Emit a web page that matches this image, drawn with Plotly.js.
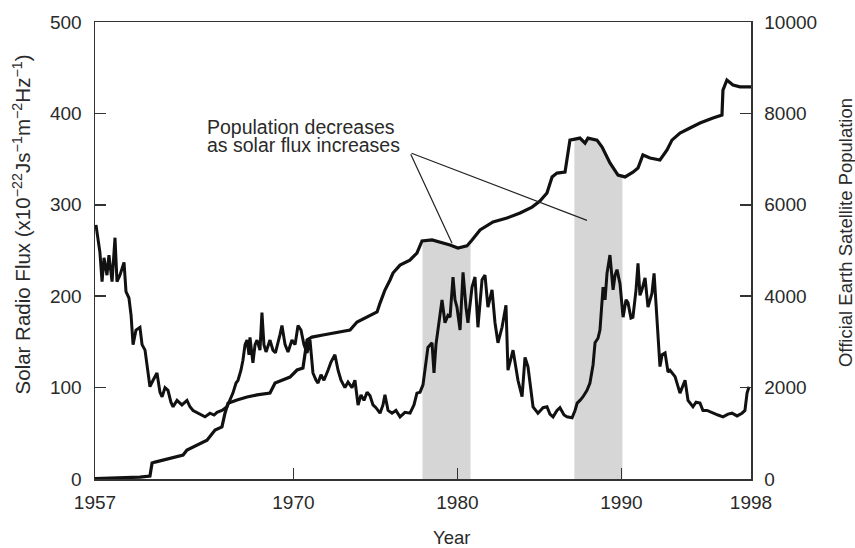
<!DOCTYPE html>
<html>
<head>
<meta charset="utf-8">
<script src="https://cdn.plot.ly/plotly-3.0.1.min.js"></script>
<style>
  html, body { margin: 0; padding: 0; background: #fff; }
  #chart { width: 855px; height: 548px; }
</style>
</head>
<body>
<div id="chart"></div>
<script>
// Monthly-ish 10.7 cm solar radio flux
const fluxYears = [
  1957.96, 1958.2, 1958.33, 1958.45, 1958.63, 1958.75, 1958.94, 1959.12, 1959.24, 1959.42,
  1959.67, 1959.79, 1959.97, 1960.1, 1960.22, 1960.4, 1960.64, 1960.77, 1960.95, 1961.13,
  1961.25, 1961.44, 1961.68, 1961.86, 1961.99, 1962.17, 1962.35, 1962.53, 1962.66, 1962.9,
  1963.2, 1963.51, 1963.69, 1963.88, 1964.18, 1964.61, 1964.91, 1965.16, 1965.34, 1965.64,
  1965.95, 1966.13, 1966.31, 1966.5, 1966.62, 1966.8, 1966.92, 1967.05, 1967.17, 1967.29,
  1967.35, 1967.53, 1967.66, 1967.78, 1967.96, 1968.08, 1968.2, 1968.33, 1968.57, 1968.75,
  1968.9, 1969.18, 1969.3, 1969.49, 1969.67, 1969.91, 1970.1, 1970.28, 1970.46, 1970.64,
  1970.83, 1971.01, 1971.19, 1971.38, 1971.5, 1971.68, 1971.86, 1972.11, 1972.29, 1972.53,
  1972.72, 1972.9, 1973.14, 1973.33, 1973.57, 1973.75, 1973.94, 1974.12, 1974.3, 1974.49,
  1974.67, 1974.85, 1975.03, 1975.28, 1975.46, 1975.58, 1975.77, 1976.01, 1976.25, 1976.5,
  1976.8, 1977.11, 1977.35, 1977.53, 1977.72, 1977.9, 1978.08, 1978.2, 1978.45, 1978.57,
  1978.69, 1978.75, 1978.94, 1979.06, 1979.24, 1979.42, 1979.55, 1979.73, 1979.85, 1979.97,
  1980.16, 1980.34, 1980.52, 1980.64, 1980.89, 1981.07, 1981.25, 1981.5, 1981.68, 1981.86,
  1982.11, 1982.29, 1982.47, 1982.72, 1982.96, 1983.08, 1983.39, 1983.69, 1983.94, 1984.12,
  1984.3, 1984.49, 1984.61, 1984.91, 1985.22, 1985.46, 1985.64, 1985.83, 1986.07, 1986.25,
  1986.5, 1986.68, 1986.99, 1987.17, 1987.3, 1987.47, 1987.66, 1987.9, 1988.08, 1988.27,
  1988.39, 1988.57, 1988.69, 1988.88, 1989.0, 1989.12, 1989.3, 1989.49, 1989.61, 1989.73,
  1989.91, 1990.1, 1990.28, 1990.4, 1990.58, 1990.7, 1990.89, 1991.01, 1991.13, 1991.25,
  1991.44, 1991.62, 1991.74, 1991.86, 1991.99, 1992.17, 1992.35, 1992.48, 1992.66, 1992.84,
  1992.96, 1993.27, 1993.57, 1993.88, 1994.06, 1994.36, 1994.55, 1994.79, 1994.97, 1995.22,
  1995.58, 1995.89, 1996.19, 1996.5, 1996.74, 1997.05, 1997.35, 1997.53, 1997.66, 1997.78
];
const fluxValues = [
  278, 248, 216, 242, 223, 245, 216, 264, 216, 223,
  237, 205, 198, 179, 147, 163, 166, 147, 141, 114,
  101, 108, 116, 95, 90, 100, 97, 84, 79, 86,
  81, 86, 79, 75, 72, 68, 72, 70, 73, 75,
  79, 86, 94, 105, 108, 119, 130, 147, 152, 136,
  155, 127, 147, 152, 141, 182, 147, 139, 152, 141,
  138, 158, 168, 147, 139, 152, 147, 168, 163, 147,
  138, 152, 116, 108, 105, 114, 108, 119, 128, 136,
  119, 108, 100, 106, 100, 108, 81, 92, 86, 95,
  91, 81, 78, 72, 81, 92, 75, 72, 75, 68,
  73, 72, 81, 94, 95, 103, 125, 144, 149, 116,
  147, 155, 176, 196, 171, 179, 177, 221, 196, 188,
  163, 226, 188, 171, 210, 221, 166, 218, 223, 188,
  207, 171, 149, 166, 190, 119, 141, 108, 90, 133,
  123, 92, 79, 72, 78, 79, 71, 68, 75, 78,
  70, 68, 67, 75, 83, 86, 90, 97, 105, 125,
  149, 154, 163, 210, 196, 225, 245, 207, 223, 229,
  214, 177, 196, 193, 176, 177, 207, 236, 201, 207,
  220, 188, 196, 203, 225, 171, 123, 136, 138, 117,
  119, 112, 94, 108, 86, 79, 84, 83, 75, 75,
  72, 70, 68, 71, 72, 69, 72, 75, 94, 101
];

// Catalogued objects in Earth orbit
const popYears = [
  1957.9, 1960.64, 1961.25, 1961.38, 1961.56, 1962.47, 1963.27, 1963.51, 1964.12, 1964.73,
  1965.22, 1965.64, 1965.83, 1966.01, 1966.56, 1967.17, 1967.78, 1968.57, 1968.88, 1969.79,
  1970.22, 1970.58, 1970.83, 1971.13, 1971.8, 1972.41, 1973.45, 1973.88, 1974.49, 1975.1,
  1975.28, 1975.58, 1975.89, 1976.07, 1976.5, 1977.1, 1977.53, 1977.84, 1978.45, 1978.94,
  1979.55, 1980.03, 1980.58, 1980.89, 1981.38, 1982.17, 1983.02, 1983.82, 1984.55, 1985.03,
  1985.46, 1985.77, 1986.07, 1986.56, 1986.86, 1987.47, 1987.78, 1987.96, 1988.51, 1988.82,
  1989.3, 1989.79, 1990.22, 1990.7, 1991.01, 1991.31, 1991.74, 1992.35, 1992.78, 1993.08,
  1993.57, 1994.18, 1994.79, 1995.58, 1996.13, 1996.19, 1996.43, 1996.8, 1997.23, 1997.9
];
const popValues = [
  10, 40, 65, 350, 370, 460, 525, 635, 745, 850,
  1070, 1140, 1445, 1660, 1730, 1795, 1840, 1880, 2100, 2230,
  2385, 2430, 3040, 3105, 3150, 3195, 3260, 3435, 3545, 3655,
  3850, 4135, 4355, 4507, 4680, 4790, 4945, 5210, 5230, 5185,
  5120, 5055, 5100, 5230, 5450, 5625, 5710, 5820, 5950, 6080,
  6260, 6610, 6695, 6715, 7415, 7460, 7350, 7460, 7415, 7265,
  6915, 6650, 6610, 6715, 6805, 7090, 7025, 6980, 7200, 7415,
  7570, 7680, 7790, 7900, 7965, 8510, 8730, 8620, 8580, 8580
];

// Solar-maximum periods highlighted under the population curve
const shadeStarts = [1977.87, 1987.13];
const shadeEnds = [1980.8, 1990.06];

const xTickVals = [1957.9, 1970, 1980, 1990, 1997.9];
const xTickText = ['1957', '1970', '1980', '1990', '1998'];

function popAt(t) {
  for (let i = 1; i < popYears.length; i++) {
    if (t <= popYears[i]) {
      const f = (t - popYears[i - 1]) / (popYears[i] - popYears[i - 1]);
      return popValues[i - 1] + f * (popValues[i] - popValues[i - 1]);
    }
  }
  return popValues[popValues.length - 1];
}

const FONT = '"Liberation Sans", Arial, Helvetica, sans-serif';
const INK = '#111';
const TXT = '#2a2a2a';

// Population (and its shading) lives on the base axis 'y' (right side);
// flux sits on the overlaying 'y2' (left side) so it is drawn above the shading.
const traces = [];
shadeStarts.forEach((a, k) => {
  const b = shadeEnds[k];
  const xs = [a], ys = [popAt(a)];
  popYears.forEach((t, i) => { if (t > a && t < b) { xs.push(t); ys.push(popValues[i]); } });
  xs.push(b); ys.push(popAt(b));
  traces.push({
    x: xs, y: ys, yaxis: 'y', type: 'scatter', mode: 'lines',
    fill: 'tozeroy', fillcolor: 'rgb(214,214,214)',
    line: { width: 0, color: 'rgba(0,0,0,0)' },
    hoverinfo: 'skip', showlegend: false
  });
});

traces.push({
  x: popYears, y: popValues, yaxis: 'y', type: 'scatter', mode: 'lines',
  line: { color: INK, width: 3.2 }, showlegend: false, name: 'Satellite population'
});
traces.push({
  x: fluxYears, y: fluxValues, yaxis: 'y2', type: 'scatter', mode: 'lines',
  line: { color: INK, width: 3 }, showlegend: false, name: 'Solar radio flux'
});

const axisCommon = {
  showgrid: false, zeroline: false, showline: true,
  linecolor: '#333', linewidth: 1.5,
  ticks: 'inside', ticklen: 11, tickwidth: 1.5, tickcolor: '#333',
  tickfont: { family: FONT, size: 19, color: TXT }
};

const titleFont = { family: FONT, size: 20.5, color: TXT };

const layout = {
  width: 855, height: 548,
  margin: { l: 95, r: 104, t: 22, b: 69 },
  paper_bgcolor: '#fff', plot_bgcolor: '#fff',
  font: { family: FONT, color: TXT },
  xaxis: Object.assign({}, axisCommon, {
    range: [1957.9, 1997.9], mirror: true,
    tickvals: xTickVals, ticktext: xTickText,
    ticklabelstandoff: 6
  }),
  yaxis: Object.assign({}, axisCommon, {
    side: 'right',
    range: [0, 10000], dtick: 2000, tick0: 0, tickformat: 'd',
    ticklabelstandoff: 8
  }),
  yaxis2: Object.assign({}, axisCommon, {
    overlaying: 'y', side: 'left',
    range: [0, 500], dtick: 100, tick0: 0,
    ticklabelstandoff: 8
  }),
  annotations: [
    {
      xref: 'paper', yref: 'paper', x: -0.112, y: 0.556,
      xanchor: 'center', yanchor: 'middle', textangle: -90, showarrow: false,
      text: 'Solar Radio Flux (x10<sup>\u221222</sup>Js<sup>\u22121</sup>m<sup>\u22122</sup>Hz<sup>\u22121</sup>)',
      font: titleFont
    },
    {
      xref: 'paper', yref: 'paper', x: 1.143, y: 0.54,
      xanchor: 'center', yanchor: 'middle', textangle: -90, showarrow: false,
      text: 'Official Earth Satellite Population',
      font: { family: FONT, size: 18.5, color: TXT }
    },
    {
      xref: 'paper', yref: 'paper', x: 0.543, y: -0.127,
      xanchor: 'center', yanchor: 'middle', showarrow: false,
      text: 'Year', font: { family: FONT, size: 18.5, color: TXT }
    },
    {
      x: 1964.61, y: 385, xref: 'x', yref: 'y2', xanchor: 'left', yanchor: 'middle',
      text: 'Population decreases', showarrow: false,
      font: { family: FONT, size: 19.5, color: TXT }
    },
    {
      x: 1964.61, y: 365, xref: 'x', yref: 'y2', xanchor: 'left', yanchor: 'middle',
      text: 'as solar flux increases', showarrow: false,
      font: { family: FONT, size: 19.5, color: TXT }
    },
    {
      x: 1979.67, y: 258, xref: 'x', yref: 'y2', text: '',
      showarrow: true, arrowhead: 0, arrowwidth: 1.2, arrowcolor: '#222',
      axref: 'x', ayref: 'y2', ax: 1977.11, ay: 357, standoff: 0, startstandoff: 0
    },
    {
      x: 1987.9, y: 283, xref: 'x', yref: 'y2', text: '',
      showarrow: true, arrowhead: 0, arrowwidth: 1.2, arrowcolor: '#222',
      axref: 'x', ayref: 'y2', ax: 1977.11, ay: 357, standoff: 0, startstandoff: 0
    }
  ]
};

Plotly.newPlot('chart', traces, layout, { staticPlot: true, displayModeBar: false });
</script>
</body>
</html>
